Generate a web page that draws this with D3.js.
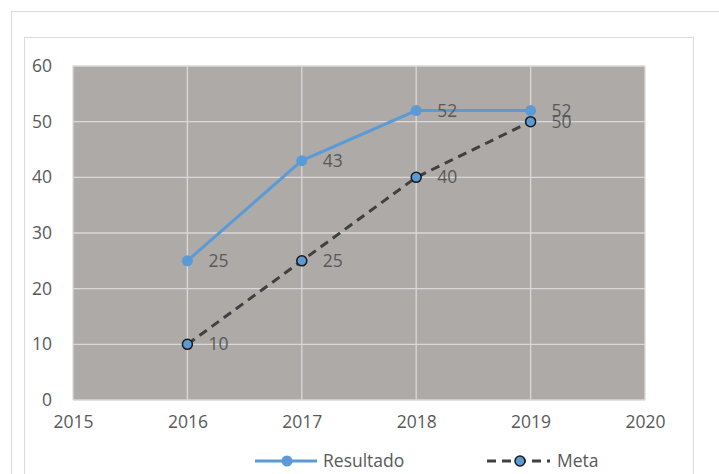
<!DOCTYPE html>
<html>
<head>
<meta charset="utf-8">
<script src="https://cdn.jsdelivr.net/npm/d3@7"></script>
<style>
  body { margin: 0; background: #fff; }
  text { font-family: "Open Sans", "Noto Sans", sans-serif; fill: #595959; }
</style>
</head>
<body>
<div class="board"></div>
<script>
var years = [2016, 2017, 2018, 2019];
var resultado = [25, 43, 52, 52];
var meta = [10, 25, 40, 50];
var xTicks = [2015, 2016, 2017, 2018, 2019, 2020];
var yTicks = [0, 10, 20, 30, 40, 50, 60];

var fs = '17.5px';

var svg = d3.select('.board').append('svg')
            .attr('width', 719)
            .attr('height', 474);

// outer frames
svg.append('rect').attr('x', 11.5).attr('y', 11.5).attr('width', 720).attr('height', 470)
   .attr('fill', 'none').attr('stroke', '#d9d9d9');
svg.append('rect').attr('x', 24.5).attr('y', 37.5).attr('width', 669).attr('height', 450)
   .attr('fill', 'none').attr('stroke', '#d9d9d9');

var x = d3.scaleLinear().domain([2015, 2020]).range([73, 645]);
var y = d3.scaleLinear().domain([0, 60]).range([400, 66]);

svg.append('rect')
   .attr('x', x(2015)).attr('y', y(60))
   .attr('width', x(2020) - x(2015)).attr('height', y(0) - y(60))
   .attr('fill', '#aeaaa8');

// grid
svg.selectAll('line.hgrid').data(yTicks).enter().append('line')
   .attr('class', 'hgrid')
   .attr('x1', x(2015)).attr('x2', x(2020))
   .attr('y1', function(d) { return y(d); }).attr('y2', function(d) { return y(d); })
   .attr('stroke', '#d9d9d9').attr('stroke-width', 1.3);
svg.selectAll('line.vgrid').data(xTicks).enter().append('line')
   .attr('class', 'vgrid')
   .attr('y1', y(0)).attr('y2', y(60))
   .attr('x1', function(d) { return x(d); }).attr('x2', function(d) { return x(d); })
   .attr('stroke', '#d9d9d9').attr('stroke-width', 1.3);

// axes labels
var yAxis = d3.axisLeft(y).tickValues(yTicks).tickSize(0).tickPadding(21);
var gy = svg.append('g').attr('transform', 'translate(' + x(2015) + ',0)').call(yAxis);
gy.select('.domain').remove();
gy.selectAll('text').style('font-size', fs).attr('fill', '#595959');

var xAxis = d3.axisBottom(x).tickValues(xTicks).tickFormat(d3.format('d')).tickSize(0).tickPadding(16);
var gx = svg.append('g').attr('transform', 'translate(0,' + y(0) + ')').call(xAxis);
gx.select('.domain').remove();
gx.selectAll('text').style('font-size', fs).attr('fill', '#595959');

var line = d3.line()
             .x(function(d) { return x(d[0]); })
             .y(function(d) { return y(d[1]); });

var resData = years.map(function(d, i) { return [d, resultado[i]]; });
var metaData = years.map(function(d, i) { return [d, meta[i]]; });

svg.append('path').datum(resData).attr('d', line)
   .attr('fill', 'none').attr('stroke', '#5b9bd5').attr('stroke-width', 3);
svg.append('path').datum(metaData).attr('d', line)
   .attr('fill', 'none').attr('stroke', '#404040').attr('stroke-width', 3)
   .attr('stroke-dasharray', '9,6');

svg.selectAll('circle.res').data(resData).enter().append('circle')
   .attr('class', 'res')
   .attr('cx', function(d) { return x(d[0]); })
   .attr('cy', function(d) { return y(d[1]); })
   .attr('r', 5.5).attr('fill', '#5b9bd5');
svg.selectAll('circle.meta').data(metaData).enter().append('circle')
   .attr('class', 'meta')
   .attr('cx', function(d) { return x(d[0]); })
   .attr('cy', function(d) { return y(d[1]); })
   .attr('r', 5).attr('fill', '#5b9bd5').attr('stroke', '#1a1a1a').attr('stroke-width', 1.5);

// data labels
svg.selectAll('text.reslbl').data(resData).enter().append('text')
   .attr('class', 'reslbl')
   .attr('x', function(d) { return x(d[0]) + 21; })
   .attr('y', function(d) { return y(d[1]); })
   .attr('dy', '0.35em').style('font-size', fs)
   .text(function(d) { return d[1]; });
svg.selectAll('text.metalbl').data(metaData).enter().append('text')
   .attr('class', 'metalbl')
   .attr('x', function(d) { return x(d[0]) + 21; })
   .attr('y', function(d) { return y(d[1]); })
   .attr('dy', '0.35em').style('font-size', fs)
   .text(function(d) { return d[1]; });

// legend
var ly = 461;
svg.append('line').attr('x1', 255).attr('x2', 317).attr('y1', ly).attr('y2', ly)
   .attr('stroke', '#5b9bd5').attr('stroke-width', 3);
svg.append('circle').attr('cx', 287).attr('cy', ly).attr('r', 5.5).attr('fill', '#5b9bd5');
svg.append('text').attr('x', 323).attr('y', ly).attr('dy', '0.35em')
   .style('font-size', fs).text('Resultado');

svg.append('line').attr('x1', 487).attr('x2', 550).attr('y1', ly).attr('y2', ly)
   .attr('stroke', '#404040').attr('stroke-width', 3).attr('stroke-dasharray', '9,6');
svg.append('circle').attr('cx', 520).attr('cy', ly).attr('r', 5).attr('fill', '#5b9bd5')
   .attr('stroke', '#1a1a1a').attr('stroke-width', 1.5);
svg.append('text').attr('x', 557).attr('y', ly).attr('dy', '0.35em')
   .style('font-size', fs).text('Meta');
</script>
</body>
</html>
